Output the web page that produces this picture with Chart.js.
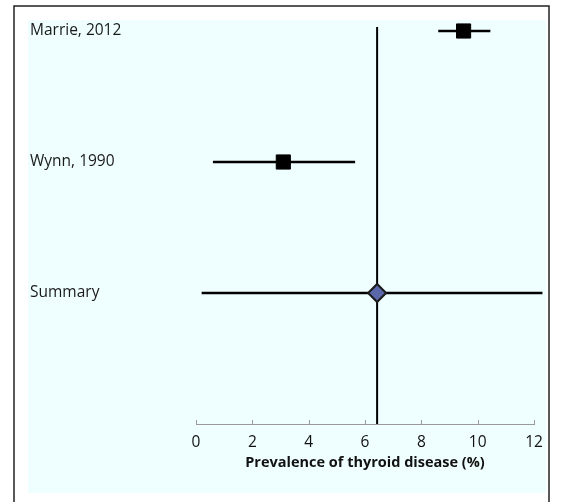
<!DOCTYPE html>
<html lang="en">
<head>
    <meta charset="UTF-8">
    <title>Prevalence of thyroid disease</title>
    <script src="https://cdn.jsdelivr.net/npm/chart.js"></script>
    <style>
        body { margin: 0; background: #fff; }
        #wrap { width: 561px; height: 502px; }
    </style>
</head>
<body>
    <div id="wrap"><canvas id="forestChart"></canvas></div>

    <script>
        // Forest plot data
        const studies = ["Marrie, 2012", "Wynn, 1990", "Summary"];
        const rows = [3, 2, 1];
        const estimates = [9.5, 3.1, 6.43];
        const lowerCI = [8.6, 0.6, 0.2];
        const upperCI = [10.45, 5.65, 12.3];
        const xTicks = [0, 2, 4, 6, 8, 10, 12];

        // background panel, outer frame and inward tick marks
        const decor = {
            id: "decor",
            beforeDraw(chart) {
                const ctx = chart.ctx;
                ctx.save();
                ctx.fillStyle = "#ffffff";
                ctx.fillRect(0, 0, chart.width, chart.height);
                ctx.fillStyle = "#effefe";
                ctx.fillRect(28, 20, 518, 473);
                ctx.strokeStyle = "#222";
                ctx.lineWidth = 1.5;
                ctx.strokeRect(14, 6, 535, 520);
                ctx.restore();
            },
            afterDraw(chart) {
                const ctx = chart.ctx;
                const x = chart.scales.x;
                const yb = chart.chartArea.bottom;
                ctx.save();
                ctx.strokeStyle = "#999";
                ctx.lineWidth = 1;
                xTicks.forEach(t => {
                    const px = Math.round(x.getPixelForValue(t)) + 0.5;
                    ctx.beginPath();
                    ctx.moveTo(px, yb - 4);
                    ctx.lineTo(px, yb);
                    ctx.stroke();
                });
                ctx.restore();
            }
        };

        const datasets = [];

        // vertical line at summary estimate
        datasets.push({
            type: "line",
            data: [{ x: estimates[2], y: 0 }, { x: estimates[2], y: 3.03 }],
            borderColor: "#000",
            borderWidth: 2,
            pointRadius: 0,
            clip: false,
            order: 3
        });

        // confidence intervals
        studies.forEach((s, i) => {
            datasets.push({
                type: "line",
                data: [{ x: lowerCI[i], y: rows[i] }, { x: upperCI[i], y: rows[i] }],
                borderColor: "#000",
                borderWidth: 2.5,
                pointRadius: 0,
                clip: false,
                order: 2
            });
        });

        // point estimates
        datasets.push({
            type: "scatter",
            data: estimates.map((e, i) => ({ x: e, y: rows[i] })),
            pointStyle: ["rect", "rect", "rectRot"],
            pointRadius: [10, 10, 9],
            backgroundColor: ["#000", "#000", "#5a67a8"],
            borderColor: ["#000", "#000", "#1a1a1a"],
            borderWidth: [1, 1, 2],
            clip: false,
            order: 1
        });

        new Chart(document.getElementById("forestChart"), {
            type: "scatter",
            data: { datasets: datasets },
            options: {
                responsive: true,
                maintainAspectRatio: false,
                animation: false,
                events: [],
                layout: { padding: { top: 31, right: 27, left: 30, bottom: 28 } },
                plugins: {
                    legend: { display: false },
                    tooltip: { enabled: false }
                },
                scales: {
                    x: {
                        type: "linear",
                        min: 0,
                        max: 12,
                        afterBuildTicks: scale => { scale.ticks = xTicks.map(v => ({ value: v })); },
                        afterFit: scale => { scale.height = 50; },
                        grid: { display: false, drawTicks: false },
                        border: { display: true, color: "#999", width: 1 },
                        ticks: {
                            padding: 9,
                            color: "#111",
                            font: { family: "Open Sans", size: 15.5 }
                        },
                        title: {
                            display: true,
                            text: "Prevalence of thyroid disease (%)",
                            color: "#111",
                            padding: { top: 4, bottom: 2 },
                            font: { family: "Open Sans", size: 14.5, weight: "bold" }
                        }
                    },
                    y: {
                        type: "linear",
                        min: 0,
                        max: 3,
                        afterBuildTicks: scale => { scale.ticks = rows.map(v => ({ value: v })); },
                        afterFit: scale => { scale.width = 166; },
                        grid: { display: false, drawTicks: false },
                        border: { display: false },
                        ticks: {
                            crossAlign: "far",
                            color: "#1a1a1a",
                            font: { family: "Open Sans", size: 15.5 },
                            callback: value => studies[rows.indexOf(value)]
                        }
                    }
                }
            },
            plugins: [decor]
        });
    </script>
</body>
</html>
